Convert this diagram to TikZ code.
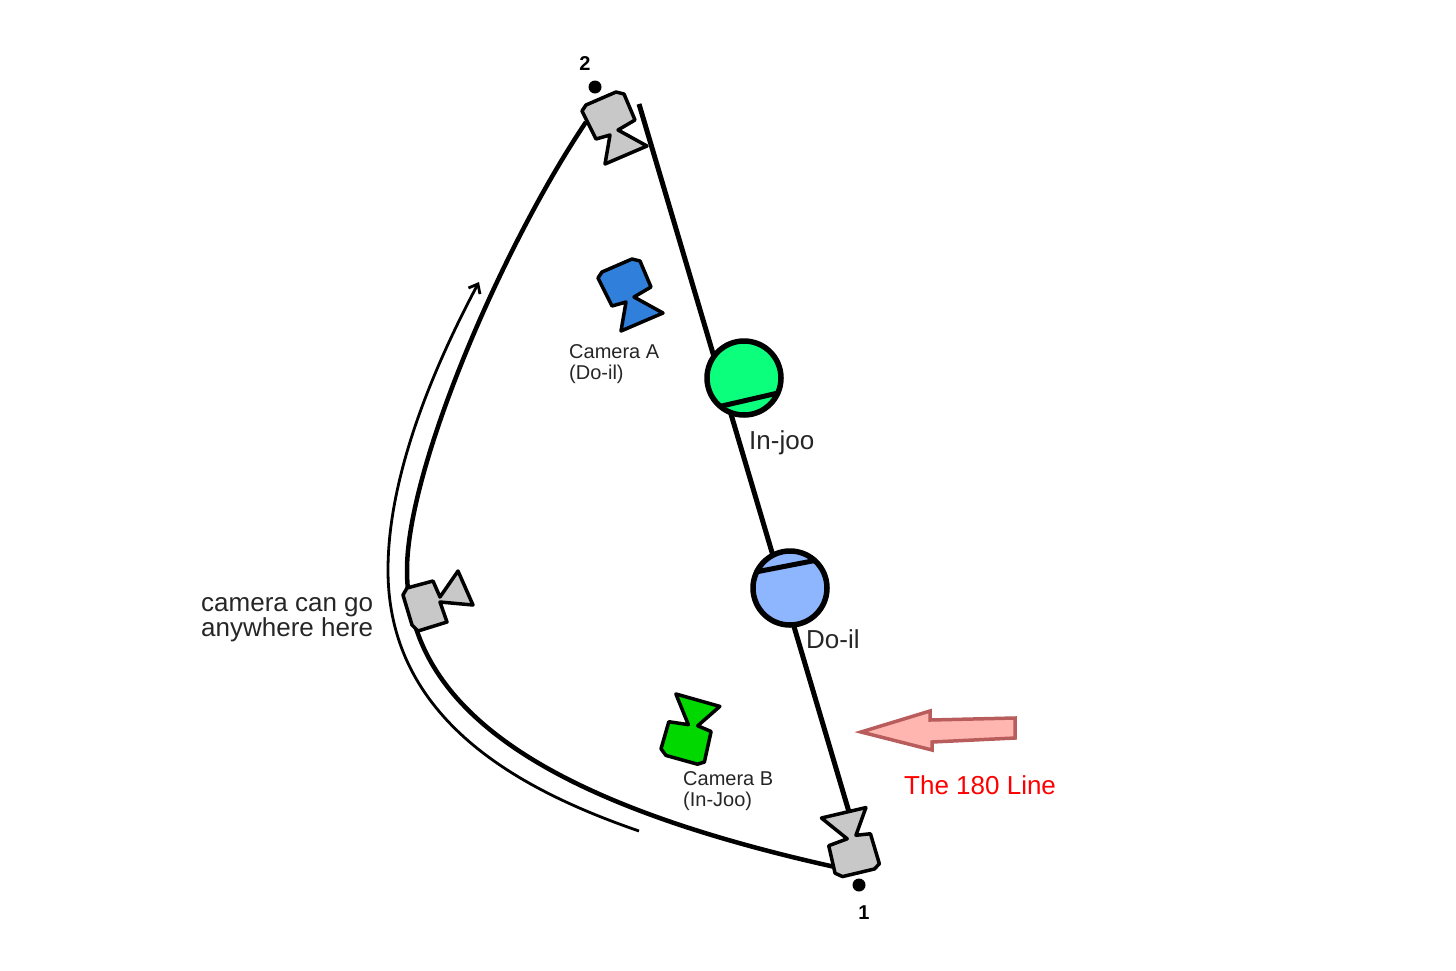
\documentclass[tikz,border=0pt]{standalone}
\usepackage{fontspec}
\setmainfont{Liberation Sans}
\usepackage{tikz}
\usetikzlibrary{arrows.meta}
\tikzset{
  camera/.pic={
    \draw[line width=3.5pt,fill=#1,line join=round] (-28,-7) -- (-24,-13) -- (6,-26) -- (14,-24) -- (25,2) -- (8,12)
      -- (37,28) -- (-5,46) -- (0,17) -- (-14,21) -- cycle;
  },
  actor/.style={circle,draw,line width=5.5pt,minimum size=74pt,inner sep=0pt,outer sep=0pt},
  small/.style={anchor=west,align=left,inner sep=0pt,text=black!85,font=\fontsize{20}{21}\selectfont},
  big/.style={anchor=west,align=left,inner sep=0pt,text=black!85,font=\fontsize{26}{24}\selectfont},
  num/.style={inner sep=0pt,font=\fontsize{20}{20}\selectfont\bfseries},
  dot/.style={circle,fill=black,inner sep=0pt,minimum size=13pt}
}
\definecolor{camgray}{HTML}{C8C8C8}
\definecolor{camblue}{HTML}{2F7FDB}
\definecolor{camgreen}{HTML}{00D800}
\definecolor{joogreen}{HTML}{0CFF7C}
\definecolor{ilblue}{HTML}{8DB6FF}
\definecolor{arrowfill}{HTML}{FFB6B0}
\definecolor{arrowedge}{HTML}{B85C5C}
\begin{document}
\begin{tikzpicture}[x=1pt,y=-1pt]
\useasboundingbox (0,0) rectangle (1456,970);

% path of the moving camera
\coordinate (start) at (835,867);
\coordinate (mid) at (407,570);
\coordinate (end) at (586,122);
\draw[line width=4.5pt] (end) .. controls (500,250) and (407,470) .. (mid)
  .. controls (407,720) and (570,808) .. (start);

% thin arrow beside it
\coordinate (arrowtail) at (639,831);
\coordinate (arrowbend) at (388,570);
\coordinate (arrowhead) at (479,282);
\draw[line width=2.8pt,-{Straight Barb[length=8pt,width=13pt]}] (arrowtail) .. controls (520,790) and (388,720) .. (arrowbend)
  .. controls (388,480) and (429,376) .. (arrowhead);

% the line
\coordinate (linetop) at (639,104);
\coordinate (linebot) at (849,812);
\draw[line width=5pt] (linetop) -- (linebot);

% actors
\node[actor,fill=joogreen] (injoo) at (744,378) {};
\draw[line width=5pt] (injoo.230) -- (injoo.336);
\node[actor,fill=ilblue] (doil) at (790,588) {};
\draw[line width=5pt] (doil.154) -- (doil.48);

\node[big] (injoolabel) at (749,443) {In-joo};
\node[big] (doillabel) at (806,639) {Do-il};

% cameras
\pic at (610,118) {camera=camgray};
\pic at (626,285) {camera=camblue};
\pic[rotate=141] at (687,739) {camera=camgreen};
\pic[rotate=170] at (853,852) {camera=camgray};
\draw[line width=3.5pt,fill=camgray,line join=round] (403,595) -- (407,588) -- (433,581) -- (440,597) -- (458,571)
  -- (473,605) -- (440,602) -- (447,622) -- (418,631) -- (412,625) -- cycle;

\node[small] (cama) at (569,364) {Camera A\\(Do-il)};
\node[small] (camb) at (683,791) {Camera B\\(In-Joo)};
\node[big] (anywhere) at (201,620) {camera can go\\anywhere here};

% start and end marks
\node[dot] (dottwo) at (595,87) {};
\node[num] (two) at (585,64) {2};
\node[dot] (dotone) at (859,885) {};
\node[num] (one) at (864,913) {1};

% pointer to the line
\draw[line width=3.5pt,fill=arrowfill,draw=arrowedge,line join=miter] (861,732) -- (930,711) -- (930,720) -- (1015,718)
  -- (1015,738) -- (932,742) -- (932,750) -- cycle;
\node[big,text=red] (linelabel) at (904,785) {The 180 Line};
\end{tikzpicture}
\end{document}
